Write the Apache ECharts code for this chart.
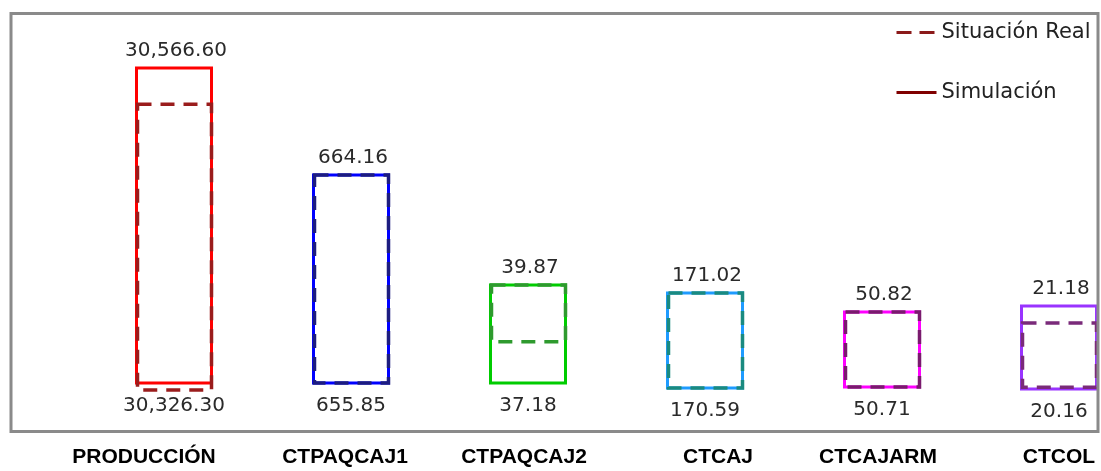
<!DOCTYPE html>
<html><head><meta charset="utf-8">
<script src="https://cdn.jsdelivr.net/npm/echarts@6/dist/echarts.min.js"></script>
<style>html,body{margin:0;padding:0;background:#fff}#c{width:1101px;height:471px}</style>
</head><body><div id="c"></div>
<script>
const categories = ['PRODUCCIÓN','CTPAQCAJ1','CTPAQCAJ2','CTCAJ','CTCAJARM','CTCOL'];
const simHigh = [30566.60, 664.16, 39.87, 171.02, 50.82, 21.18];
const simLow  = [30326.30, 655.85, 37.18, 170.59, 50.71, 20.16];
const realHigh = [30539.0, 664.16, 39.87, 171.02, 50.82, 20.97];
const realLow  = [30321.0, 655.85, 38.31, 170.59, 50.71, 20.18];
const legendNames = ['Situación Real','Simulación'];

// styles
const simColors  = ['#ff0000','#0000ff','#00cc00','#1e9bff','#ff00ff','#9933ff'];
const realColors = ['#9a1c1c','#1c1c80','#2e9a2e','#1a8a80','#7a1a6e','#7a2a7a'];
// layout: pixel rows where each category's own scale places its simulated range
const boxTopPx    = [68,175,285,293,312,306];
const boxBottomPx = [383,383,383,388,387,389];
const labelShiftPx = [-30,-6,-4,13,-4,0];
const GRID_TOP = 13, GRID_H = 420;

const yAxes = categories.map((c,i)=>{
  const s = (simHigh[i]-simLow[i])/(boxBottomPx[i]-boxTopPx[i]);
  return {type:'value', show:false, splitLine:{show:false},
    min: simLow[i] - (GRID_TOP+GRID_H-boxBottomPx[i])*s,
    max: simHigh[i] + (boxTopPx[i]-GRID_TOP)*s};
});

const fmt = v => v.toLocaleString('en-US',{minimumFractionDigits:2, maximumFractionDigits:2});

const boxSeries = categories.map((c,i)=>({
  type:'custom', yAxisIndex:i, clip:false, silent:true, z:3,
  data:[[i, simLow[i], simHigh[i], realLow[i], realHigh[i]]],
  encode:{x:0, y:[1,2,3,4]},
  renderItem(params, api){
    const cx = api.coord([api.value(0), api.value(1)])[0];
    const yLo = api.coord([api.value(0), api.value(1)])[1];
    const yHi = api.coord([api.value(0), api.value(2)])[1];
    const rLo = api.coord([api.value(0), api.value(3)])[1];
    const rHi = api.coord([api.value(0), api.value(4)])[1];
    const w = 75;
    const font = '20px "DejaVu Sans"';
    return {type:'group', children:[
      {type:'rect', shape:{x:cx-w/2, y:yHi, width:w, height:yLo-yHi},
        style:{fill:'none', stroke:simColors[i], lineWidth:3}},
      {type:'rect', shape:{x:cx-w/2+1, y:rHi, width:w-1, height:rLo-rHi},
        style:{fill:'none', stroke:realColors[i], lineWidth:3.5, lineDash:[14,9]}},
      {type:'text', x:cx+2, y:yHi-17,
        style:{text:fmt(api.value(2)), fill:'#2a2a2a', font:font, align:'center', verticalAlign:'middle'}},
      {type:'text', x:cx, y:yLo+23,
        style:{text:fmt(api.value(1)), fill:'#2a2a2a', font:font, align:'center', verticalAlign:'middle'}}
    ]};
  }
}));

const legendSeries = [
  {type:'line', name:legendNames[0], data:[], symbol:'none', yAxisIndex:0,
    lineStyle:{type:[15,8], width:3, color:'#8b1a1a'}, itemStyle:{color:'#8b1a1a'}},
  {type:'line', name:legendNames[1], data:[], symbol:'none', yAxisIndex:0,
    lineStyle:{type:'solid', width:3, color:'#800000'}, itemStyle:{color:'#800000'}}
];

const axisData = categories.map((c,i)=>({
  value:c,
  textStyle:{padding: labelShiftPx[i] >= 0 ? [0,0,0,2*labelShiftPx[i]] : [0,-2*labelShiftPx[i],0,0]}
}));

const chart = echarts.init(document.getElementById('c'), null, {renderer:'canvas'});
chart.setOption({
  backgroundColor:'#fff',
  animation:false,
  grid:{left:174, right:42, top:GRID_TOP, height:GRID_H},
  xAxis:{type:'category', data:axisData, boundaryGap:false,
    axisLine:{show:false}, axisTick:{show:false}, splitLine:{show:false},
    axisLabel:{interval:0, margin:14, fontFamily:'"Liberation Sans", Arial', fontWeight:'bold', fontSize:21, color:'#000'}},
  yAxis:yAxes,
  legend:{data:legendNames, orient:'vertical', left:895, top:22, padding:0,
    itemWidth:40, itemHeight:21, itemGap:39,
    itemStyle:{opacity:0},
    lineStyle:{width:3},
    textStyle:{fontFamily:'"DejaVu Sans"', fontSize:21, color:'#222', lineHeight:21}},
  graphic:[{type:'rect', z:10, silent:true,
    shape:{x:11, y:13.5, width:1087, height:418},
    style:{fill:'none', stroke:'#8a8a8a', lineWidth:3}}],
  series: boxSeries.concat(legendSeries)
});
</script></body></html>
